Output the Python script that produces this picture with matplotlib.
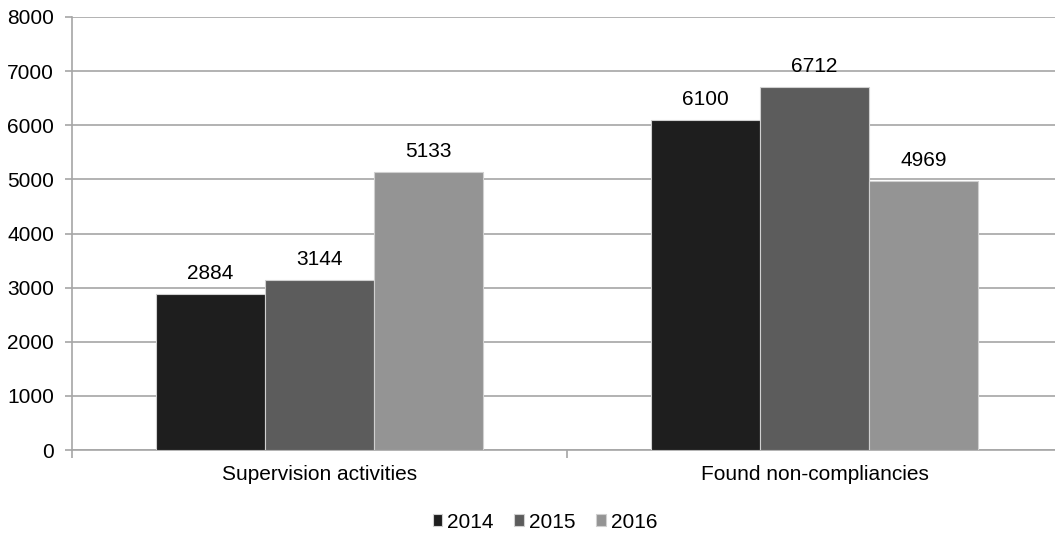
import matplotlib.pyplot as plt
import numpy as np

plt.rcParams['font.family'] = ['Liberation Sans', 'DejaVu Sans']

categories = ['Supervision activities', 'Found non-compliancies']
years = ['2014', '2015', '2016']
values = {
    '2014': [2884, 6100],
    '2015': [3144, 6712],
    '2016': [5133, 4969],
}
colors = ['#1e1e1e', '#5c5c5c', '#949494']

fig = plt.figure(figsize=(10.55, 5.33), dpi=100)
ax = fig.add_axes([72 / 1055, 1 - 450 / 533, 990 / 1055, 433 / 533])

x = np.arange(len(categories))
w = 0.22
for i, yr in enumerate(years):
    bars = ax.bar(x + (i - 1) * w, values[yr], w, color=colors[i],
                  edgecolor='#d0d0d0', linewidth=0.8, label=yr, zorder=3)
    for b, v in zip(bars, values[yr]):
        ax.text(b.get_x() + b.get_width() / 2, v + 200, str(v),
                ha='center', va='bottom', fontsize=15)

ax.set_xlim(-0.5, 1.5)
ax.set_ylim(0, 8000)
ax.set_yticks(range(0, 8001, 1000))
ax.yaxis.grid(True, color='#a6a6a6', linewidth=1.2, zorder=0)

ax.set_xticks(x)
ax.set_xticklabels(categories, fontsize=15)
ax.set_xticks([-0.5, 0.5, 1.5], minor=True)
ax.tick_params(axis='x', which='major', length=0, pad=11)
ax.tick_params(axis='x', which='minor', length=6, color='#a6a6a6', width=1.2)
ax.tick_params(axis='y', length=5, color='#a6a6a6', width=1.2, labelsize=15, pad=8)

for s in ['top', 'right']:
    ax.spines[s].set_visible(False)
for s in ['left', 'bottom']:
    ax.spines[s].set_color('#a6a6a6')
    ax.spines[s].set_linewidth(1.2)

fig.legend(loc='center', bbox_to_anchor=(545 / 1055, 1 - 522 / 533), ncol=3,
           frameon=False, fontsize=15, handlelength=0.45, handleheight=0.45,
           handletextpad=0.25, columnspacing=1.0)

fig.savefig('out.png', dpi=100)
